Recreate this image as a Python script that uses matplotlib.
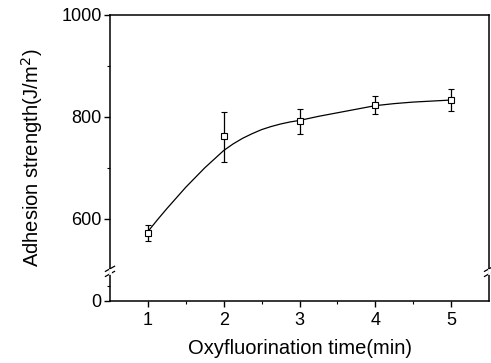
import matplotlib
matplotlib.use("Agg")
import matplotlib.pyplot as plt

# Data
times = [1, 2, 3, 4, 5]
strength = [573, 762, 792, 824, 833]
err_low = [16, 50, 25, 18, 22]
err_high = [15, 48, 24, 17, 22]

# fitted curve
curve_x = [1.0, 1.125, 1.25, 1.375, 1.5, 1.625, 1.75, 1.875, 2.0, 2.125, 2.25, 2.375,
           2.5, 2.625, 2.75, 2.875, 3.0, 3.25, 3.5, 3.75, 4.0, 4.25, 4.5, 4.75, 5.0]
curve_y = [575, 598, 620, 641, 662, 681, 700, 717, 734, 747, 758, 767,
           775, 781, 786, 790, 793, 801, 808, 815, 822, 826, 829, 831, 833]

yticks = [439, 600, 800, 1000]
ytick_labels = ["0", "600", "800", "1000"]
xticks = [1, 2, 3, 4, 5]
break_y = 497

plt.rcParams['font.family'] = ['Liberation Sans', 'DejaVu Sans']

fig = plt.figure(figsize=(4.91, 3.63), dpi=100)
ax = fig.add_axes([0.224, 0.171, 0.772, 0.788])

ax.plot(curve_x, curve_y, color='black', lw=0.9)
ax.errorbar(times, strength, yerr=[err_low, err_high], fmt='s', mfc='white',
            mec='black', ms=4.5, mew=0.8, ecolor='black', elinewidth=0.9,
            capsize=2.5, capthick=0.9, zorder=3)

ax.set_xlim(0.5, 5.5)
ax.set_ylim(439, 1000)
ax.set_xticks(xticks)
ax.set_xticks([1.5, 2.5, 3.5, 4.5], minor=True)
ax.set_yticks(yticks)
ax.set_yticklabels(ytick_labels)
ax.set_yticks([468, 700, 900], minor=True)

ax.tick_params(axis='both', which='major', direction='out', length=4, width=1,
               labelsize=13, pad=2)
ax.tick_params(axis='x', which='major', pad=4)
ax.tick_params(axis='both', which='minor', direction='out', length=2.5, width=0.8)

for s in ax.spines.values():
    s.set_linewidth(1.1)

# axis break marks on both vertical spines
for xpos in (0.0, 1.0):
    for dy in (-5, 5):
        ax.plot([xpos - 0.012, xpos + 0.012], [break_y + dy - 5, break_y + dy + 5],
                transform=ax.get_yaxis_transform(), color='black', lw=0.9,
                clip_on=False)
    ax.plot([xpos, xpos], [break_y - 3, break_y + 3], transform=ax.get_yaxis_transform(),
            color='white', lw=2, clip_on=False, zorder=5)

ax.set_xlabel("Oxyfluorination time(min)", fontsize=14.5, labelpad=7)
ax.set_ylabel("Adhesion strength(J/m$^2$)", fontsize=14.5, labelpad=12)

fig.savefig("out.png", dpi=100)
